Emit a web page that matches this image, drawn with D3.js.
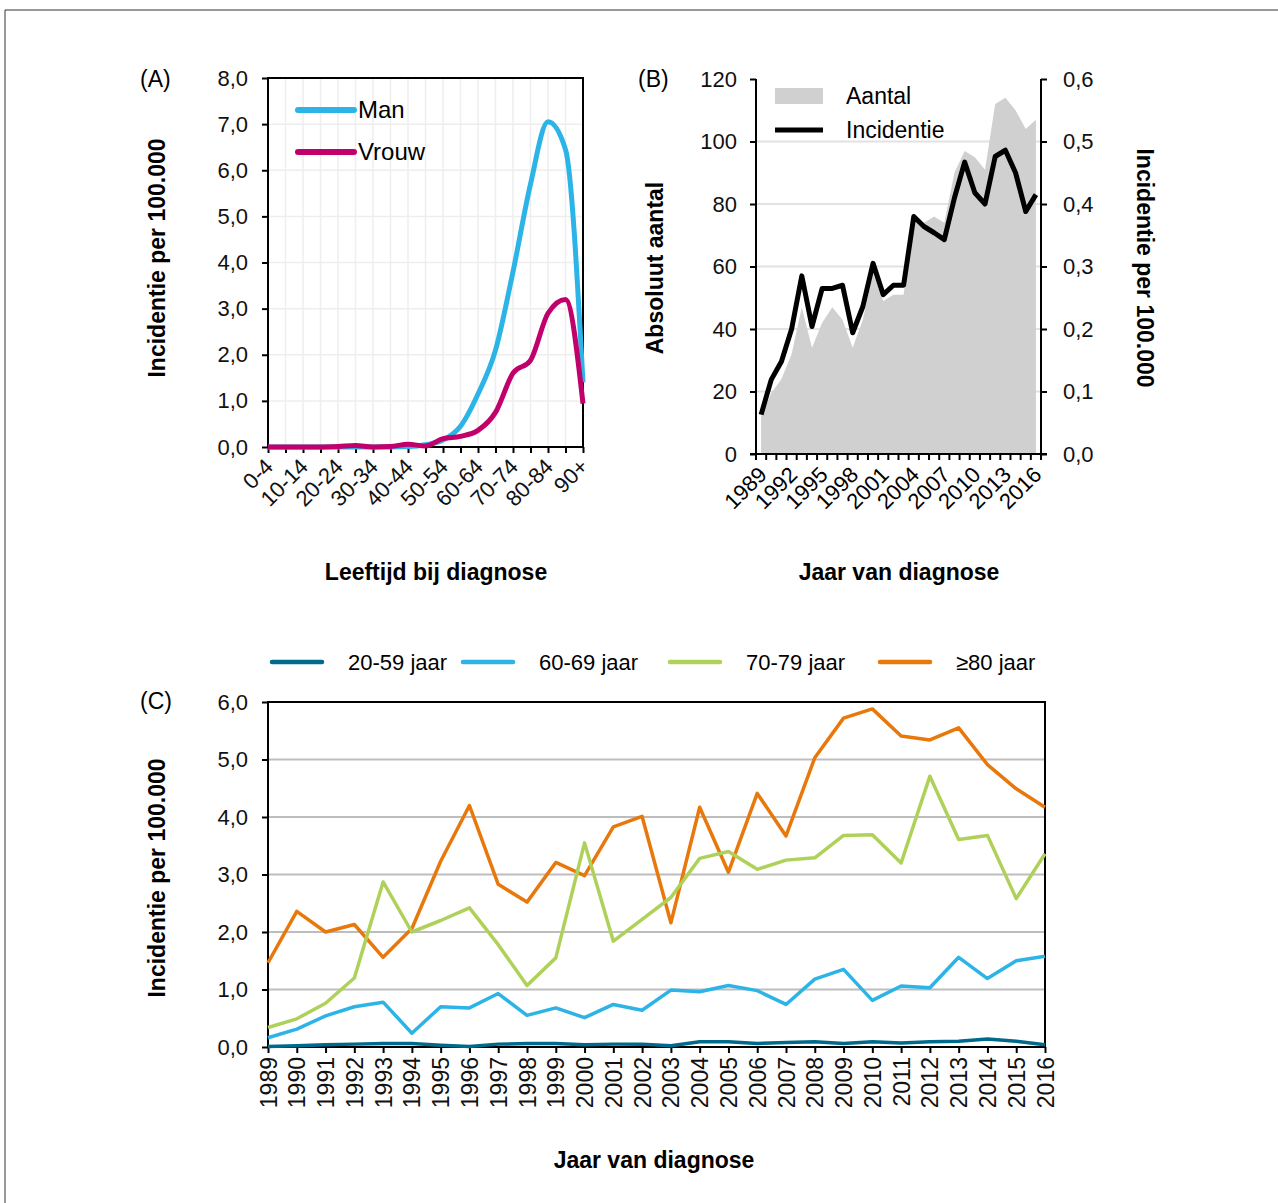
<!DOCTYPE html>
<html>
<head>
<meta charset="utf-8">
<script src="https://cdn.jsdelivr.net/npm/d3@7"></script>
<style>
  body { margin: 0; background: #fff; }
  svg { font-family: "Liberation Sans", Arial, sans-serif; }
  .tick text { fill: #111; }
</style>
</head>
<body>
<svg width="1278" height="1203"></svg>
<script>
// ---- data ----
var ageGroups = ["0-4","5-9","10-14","15-19","20-24","25-29","30-34","35-39","40-44","45-49",
  "50-54","55-59","60-64","65-69","70-74","75-79","80-84","85-89","90+"];
var manA   = [0,0,0,0,0,0,0,0,0.01,0.05,0.15,0.45,1.15,2.1,3.8,5.7,7.05,6.45,1.4];
var vrouwA = [0,0,0,0,0.01,0.03,0,0.01,0.06,0.02,0.18,0.23,0.36,0.75,1.6,1.88,2.9,3.2,0.94];

var years = d3.range(1989, 2017);
var aantal = [12,19.5,24,32,47,34,42,47,43,34,43,58,49,51,51,75.5,74,76,74,90,97,95,91,112,114,110,104,107];
var incidentie = [0.063,0.119,0.148,0.2,0.285,0.204,0.265,0.265,0.27,0.194,0.236,0.305,0.255,0.27,0.27,
  0.38,0.364,0.354,0.343,0.41,0.467,0.418,0.4,0.476,0.486,0.45,0.388,0.415];

var leeftijd2059 = [0.01,0.02,0.04,0.05,0.06,0.06,0.03,0.01,0.05,0.06,0.06,0.04,0.05,0.05,0.02,0.09,0.09,0.06,0.08,0.09,0.06,0.09,0.07,0.09,0.1,0.14,0.1,0.04];
var leeftijd6069 = [0.16,0.31,0.54,0.7,0.78,0.24,0.7,0.68,0.93,0.55,0.68,0.51,0.74,0.64,0.99,0.96,1.07,0.98,0.74,1.18,1.35,0.81,1.06,1.03,1.56,1.19,1.5,1.58];
var leeftijd7079 = [0.34,0.49,0.76,1.2,2.87,2.0,2.2,2.42,1.78,1.07,1.55,3.55,1.84,2.22,2.6,3.28,3.4,3.09,3.25,3.29,3.68,3.69,3.2,4.71,3.61,3.68,2.58,3.36];
var leeftijd80 = [1.465,2.36,2.0,2.13,1.56,2.06,3.23,4.2,2.83,2.52,3.21,2.98,3.83,4.01,2.16,4.17,3.04,4.41,3.67,5.03,5.72,5.88,5.41,5.34,5.55,4.91,4.49,4.17];

var seriesC = [
  {name: "20-59 jaar", values: leeftijd2059, color: "#006a8c"},
  {name: "60-69 jaar", values: leeftijd6069, color: "#2db4e7"},
  {name: "70-79 jaar", values: leeftijd7079, color: "#afd15a"},
  {name: "\u226580 jaar", values: leeftijd80, color: "#e8780b"}
];

var nl = d3.formatLocale({decimal: ",", thousands: ".", grouping: [3], currency: ["", ""]});
var fmt1 = nl.format(".1f");

var svg = d3.select("svg");

// outer frame
svg.append("path")
  .attr("d", "M5,1203V10H1278")
  .attr("fill", "none")
  .attr("stroke", "#333")
  .attr("stroke-width", 1);

function styleAxis(g, size) {
  g.select(".domain").remove();
  g.selectAll(".tick line").attr("stroke", "#000").attr("stroke-width", 2);
  g.selectAll(".tick text").style("font-size", size + "px");
}

function title(g, x, y, rot, txt) {
  g.append("text")
    .attr("transform", "translate(" + x + "," + y + ")" + (rot ? " rotate(" + rot + ")" : ""))
    .attr("text-anchor", "middle")
    .style("font-size", "23px").style("font-weight", "bold")
    .text(txt);
}

// ================= Panel A =================
var xA = d3.scalePoint().domain(ageGroups).range([268, 583]);
var yA = d3.scaleLinear().domain([0, 8]).range([447, 78]);

var gA = svg.append("g");

gA.selectAll(".vgrid").data(ageGroups).enter().append("line")
  .attr("x1", function(d) { return xA(d); })
  .attr("x2", function(d) { return xA(d); })
  .attr("y1", yA(8)).attr("y2", yA(0))
  .attr("stroke", "#eeeeee").attr("stroke-width", 1.5);
gA.selectAll(".hgrid").data(d3.range(1, 9)).enter().append("line")
  .attr("x1", 268).attr("x2", 583)
  .attr("y1", function(d) { return yA(d); })
  .attr("y2", function(d) { return yA(d); })
  .attr("stroke", "#eeeeee").attr("stroke-width", 1.5);

gA.append("rect")
  .attr("x", 268).attr("y", 78).attr("width", 315).attr("height", 369)
  .attr("fill", "none").attr("stroke", "#000").attr("stroke-width", 2);

var axA = gA.append("g").attr("transform", "translate(268,0)")
  .call(d3.axisLeft(yA).ticks(8).tickSize(6).tickPadding(14).tickFormat(fmt1));
styleAxis(axA, 22);

var bxA = gA.append("g").attr("transform", "translate(0,447)")
  .call(d3.axisBottom(xA).tickSize(6).tickFormat(function(d, i) { return i % 2 ? "" : d; }));
styleAxis(bxA, 22);
bxA.selectAll(".tick text")
  .attr("text-anchor", "end")
  .attr("dy", null)
  .attr("transform", "translate(6,21) rotate(-45)")
  .attr("y", 0).attr("x", 0);

var lineA = d3.line()
  .x(function(d, i) { return xA(ageGroups[i]); })
  .y(function(d) { return yA(d); })
  .curve(d3.curveMonotoneX);

gA.append("path").datum(manA).attr("d", lineA)
  .attr("fill", "none").attr("stroke", "#2db4e7").attr("stroke-width", 5);
gA.append("path").datum(vrouwA).attr("d", lineA)
  .attr("fill", "none").attr("stroke", "#c2006b").attr("stroke-width", 5);

var legA = [{name: "Man", color: "#2db4e7"}, {name: "Vrouw", color: "#c2006b"}];
legA.forEach(function(d, i) {
  var y = 110 + i * 42;
  gA.append("line").attr("x1", 298).attr("x2", 354).attr("y1", y).attr("y2", y)
    .attr("stroke", d.color).attr("stroke-width", 6).attr("stroke-linecap", "round");
  gA.append("text").attr("x", 358).attr("y", y + 8).style("font-size", "24px").text(d.name);
});

gA.append("text").attr("x", 140).attr("y", 87).style("font-size", "23px").text("(A)");
title(gA, 165, 258, -90, "Incidentie per 100.000");
title(gA, 436, 580, 0, "Leeftijd bij diagnose");

// ================= Panel B =================
var xB = d3.scaleBand().domain(years).range([756, 1041]);
var yB = d3.scaleLinear().domain([0, 120]).range([454, 79]);
var yB2 = d3.scaleLinear().domain([0, 0.6]).range([454, 79]);
var bw = xB.bandwidth();

var gB = svg.append("g");

gB.selectAll(".hgrid").data([20, 40, 60, 80, 100]).enter().append("line")
  .attr("x1", 756).attr("x2", 1041)
  .attr("y1", function(d) { return yB(d); })
  .attr("y2", function(d) { return yB(d); })
  .attr("stroke", "#e2e2e2").attr("stroke-width", 2);

var areaB = d3.area()
  .x(function(d, i) { return xB(years[i]) + bw / 2; })
  .y0(yB(0))
  .y1(function(d) { return yB(d); });
gB.append("path").datum(aantal).attr("d", areaB).attr("fill", "#d0d0d0");

var lineB = d3.line()
  .x(function(d, i) { return xB(years[i]) + bw / 2; })
  .y(function(d) { return yB2(d); });
gB.append("path").datum(incidentie).attr("d", lineB)
  .attr("fill", "none").attr("stroke", "#000").attr("stroke-width", 5)
  .attr("stroke-linejoin", "round");

gB.append("line").attr("x1", 756).attr("x2", 756).attr("y1", 79).attr("y2", 454)
  .attr("stroke", "#000").attr("stroke-width", 2);
gB.append("line").attr("x1", 1041).attr("x2", 1041).attr("y1", 79).attr("y2", 454)
  .attr("stroke", "#000").attr("stroke-width", 2);
gB.append("line").attr("x1", 750).attr("x2", 1047).attr("y1", 454).attr("y2", 454)
  .attr("stroke", "#000").attr("stroke-width", 2);

var lyB = gB.append("g").attr("transform", "translate(756,0)")
  .call(d3.axisLeft(yB).tickValues(d3.range(0, 121, 20)).tickSize(6).tickPadding(13));
styleAxis(lyB, 22);
var ryB = gB.append("g").attr("transform", "translate(1041,0)")
  .call(d3.axisRight(yB2).tickValues([0, 0.1, 0.2, 0.3, 0.4, 0.5, 0.6]).tickSize(6).tickPadding(16).tickFormat(fmt1));
styleAxis(ryB, 22);

// ticks between categories
var bounds = years.map(function(y) { return xB(y); }).concat([1041]);
gB.selectAll(".xtick").data(bounds).enter().append("line")
  .attr("x1", function(d) { return d; }).attr("x2", function(d) { return d; })
  .attr("y1", 454).attr("y2", 460)
  .attr("stroke", "#000").attr("stroke-width", 2);
gB.selectAll(".xlab").data(years.filter(function(y) { return (y - 1989) % 3 === 0; }))
  .enter().append("text")
  .attr("text-anchor", "end")
  .attr("transform", function(d) { return "translate(" + (xB(d) + bw / 2 + 7) + ",476) rotate(-45)"; })
  .style("font-size", "22px")
  .text(function(d) { return d; });

gB.append("rect").attr("x", 775).attr("y", 88).attr("width", 48).attr("height", 16).attr("fill", "#d0d0d0");
gB.append("text").attr("x", 846).attr("y", 104).style("font-size", "23px").text("Aantal");
gB.append("line").attr("x1", 775).attr("x2", 823).attr("y1", 130).attr("y2", 130)
  .attr("stroke", "#000").attr("stroke-width", 5);
gB.append("text").attr("x", 846).attr("y", 138).style("font-size", "23px").text("Incidentie");

gB.append("text").attr("x", 638).attr("y", 87).style("font-size", "23px").text("(B)");
title(gB, 663, 268, -90, "Absoluut aantal");
title(gB, 1137, 268, 90, "Incidentie per 100.000");
title(gB, 899, 580, 0, "Jaar van diagnose");

// ================= Panel C =================
var xC = d3.scalePoint().domain(years).range([268, 1045]);
var yC = d3.scaleLinear().domain([0, 6]).range([1047, 702]);

var gC = svg.append("g");

gC.selectAll(".hgrid").data([1, 2, 3, 4, 5]).enter().append("line")
  .attr("x1", 268).attr("x2", 1045)
  .attr("y1", function(d) { return yC(d); })
  .attr("y2", function(d) { return yC(d); })
  .attr("stroke", "#bdbdbd").attr("stroke-width", 2);

gC.append("rect")
  .attr("x", 268).attr("y", 702).attr("width", 777).attr("height", 345)
  .attr("fill", "none").attr("stroke", "#000").attr("stroke-width", 2);

var lyC = gC.append("g").attr("transform", "translate(268,0)")
  .call(d3.axisLeft(yC).ticks(6).tickSize(6).tickPadding(14).tickFormat(fmt1));
styleAxis(lyC, 22);

var bxC = gC.append("g").attr("transform", "translate(0,1047)")
  .call(d3.axisBottom(xC).tickSize(6));
styleAxis(bxC, 23);
bxC.selectAll(".tick text")
  .attr("text-anchor", "end")
  .attr("dy", null)
  .attr("transform", "translate(8,10) rotate(-90)")
  .attr("x", 0).attr("y", 0);

var lineC = d3.line()
  .x(function(d, i) { return xC(years[i]); })
  .y(function(d) { return yC(d); });

gC.selectAll(".serie").data(seriesC.slice().reverse()).enter().append("path")
  .attr("d", function(d) { return lineC(d.values); })
  .attr("fill", "none")
  .attr("stroke", function(d) { return d.color; })
  .attr("stroke-width", 3.5)
  .attr("stroke-linejoin", "round");

var legX = [272, 463, 670, 880];
seriesC.forEach(function(d, i) {
  gC.append("line").attr("x1", legX[i]).attr("x2", legX[i] + 50).attr("y1", 662).attr("y2", 662)
    .attr("stroke", d.color).attr("stroke-width", 4.5).attr("stroke-linecap", "round");
  gC.append("text").attr("x", legX[i] + 76).attr("y", 670).style("font-size", "22px").text(d.name);
});

gC.append("text").attr("x", 140).attr("y", 709).style("font-size", "23px").text("(C)");
title(gC, 165, 878, -90, "Incidentie per 100.000");
title(gC, 654, 1168, 0, "Jaar van diagnose");
</script>
</body>
</html>
